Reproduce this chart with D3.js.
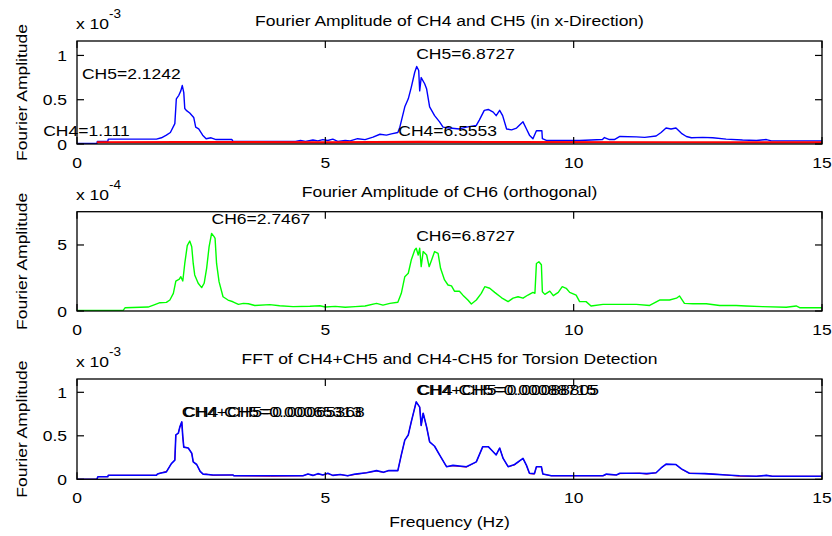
<!DOCTYPE html>
<html><head><meta charset="utf-8">
<script src="https://cdn.jsdelivr.net/npm/d3@7"></script>
<style>body{margin:0;background:#fff} text{font-family:"Liberation Sans",Arial,Helvetica,sans-serif;fill:#000}</style>
</head><body><svg id="c" width="832" height="536"></svg>
<script>
// ---------- data ----------
const xTicks = [0, 5, 10, 15];
const titles = [
  "Fourier Amplitude of CH4 and CH5 (in x-Direction)",
  "Fourier Amplitude of CH6 (orthogonal)",
  "FFT of CH4+CH5 and CH4-CH5 for Torsion Detection"
];
const exponents = ["-3", "-4", "-3"];
const yTicks1 = [0, 0.5, 1];
const yTicks2 = [0, 5];
const yTicks3 = [0, 0.5, 1];

// CH5 amplitude (x 1e-3) vs frequency (Hz)
const ch5 = [[0,0.005],[0.4,0.005],[0.41,0.03],[0.62,0.03],[0.63,0.055],[1.6,0.055],[1.7,0.07],[1.8,0.1],[1.88,0.13],[1.97,0.23],[2.0,0.51],[2.05,0.55],[2.09,0.6],[2.12,0.66],[2.15,0.58],[2.17,0.4],[2.2,0.38],[2.27,0.35],[2.35,0.3],[2.39,0.19],[2.45,0.17],[2.53,0.1],[2.6,0.06],[2.7,0.07],[2.8,0.05],[3.12,0.05],[3.14,0.03],[4.4,0.03],[4.5,0.04],[4.6,0.03],[4.75,0.045],[4.85,0.035],[4.95,0.05],[5.05,0.04],[5.15,0.055],[5.25,0.03],[5.4,0.04],[5.5,0.035],[5.65,0.06],[5.8,0.05],[5.96,0.077],[6.1,0.11],[6.23,0.1],[6.33,0.115],[6.46,0.13],[6.5,0.19],[6.6,0.42],[6.67,0.51],[6.73,0.64],[6.8,0.81],[6.84,0.875],[6.88,0.83],[6.9,0.6],[6.93,0.75],[7.0,0.68],[7.04,0.62],[7.1,0.42],[7.2,0.32],[7.3,0.25],[7.37,0.19],[7.5,0.18],[7.7,0.17],[7.84,0.19],[8.04,0.21],[8.1,0.27],[8.2,0.38],[8.28,0.39],[8.38,0.36],[8.44,0.32],[8.51,0.38],[8.57,0.32],[8.65,0.17],[8.75,0.16],[8.85,0.18],[8.98,0.25],[9.05,0.17],[9.11,0.1],[9.18,0.06],[9.25,0.15],[9.36,0.15],[9.37,0.06],[9.45,0.04],[10.12,0.04],[10.58,0.05],[10.62,0.073],[10.72,0.05],[10.82,0.05],[10.93,0.085],[11.26,0.08],[11.43,0.075],[11.66,0.09],[11.76,0.13],[11.86,0.18],[11.96,0.17],[12.06,0.18],[12.17,0.12],[12.27,0.085],[12.37,0.07],[12.6,0.075],[12.8,0.07],[13.07,0.055],[13.4,0.045],[13.68,0.04],[13.88,0.05],[13.98,0.035],[15,0.035]];

// CH4 amplitude (x 1e-3) — nearly zero
const ch4 = [[0.4,0.02],[2.1,0.022],[5,0.019],[6.9,0.023],[8.3,0.021],[12,0.02],[15,0.018]];

// CH6 amplitude (x 1e-4)
const ch6 = [[0,0.05],[0.93,0.05],[0.97,0.25],[1.43,0.3],[1.54,0.45],[1.67,0.63],[1.8,0.65],[1.87,0.83],[1.94,1.34],[1.99,2.27],[2.06,2.42],[2.09,2.6],[2.13,2.27],[2.17,3.6],[2.22,4.95],[2.27,5.3],[2.31,4.87],[2.34,3.6],[2.37,2.73],[2.44,2.1],[2.51,1.77],[2.56,2.1],[2.61,3.23],[2.66,4.87],[2.71,5.88],[2.76,5.63],[2.78,5.5],[2.81,3.6],[2.86,2.22],[2.94,1.08],[3.04,0.83],[3.14,0.7],[3.25,0.5],[3.35,0.58],[3.45,0.55],[3.58,0.42],[3.88,0.48],[4.08,0.4],[4.35,0.33],[4.69,0.36],[4.89,0.4],[5.0,0.3],[5.2,0.35],[5.4,0.28],[5.6,0.33],[5.8,0.38],[6.03,0.58],[6.16,0.45],[6.3,0.58],[6.46,0.66],[6.53,1.34],[6.6,2.6],[6.67,2.86],[6.73,3.86],[6.8,4.62],[6.83,4.75],[6.87,4.24],[6.9,4.75],[6.93,3.36],[6.97,4.5],[7.04,4.24],[7.09,3.36],[7.14,3.86],[7.2,4.5],[7.27,4.37],[7.32,3.23],[7.4,2.35],[7.47,1.97],[7.54,1.9],[7.6,1.5],[7.7,1.5],[7.77,1.2],[7.87,0.83],[7.94,0.53],[8.04,0.83],[8.14,1.34],[8.21,1.84],[8.31,1.72],[8.41,1.41],[8.55,1.0],[8.68,0.71],[8.78,0.97],[8.88,1.08],[8.98,0.97],[9.08,1.21],[9.18,1.41],[9.22,1.34],[9.25,3.6],[9.3,3.73],[9.35,3.5],[9.37,1.46],[9.42,1.26],[9.52,1.5],[9.59,1.16],[9.69,1.41],[9.77,1.84],[9.85,1.72],[9.92,1.41],[10.05,1.2],[10.12,0.71],[10.25,0.71],[10.35,0.38],[10.59,0.5],[10.93,0.5],[11.26,0.5],[11.53,0.42],[11.73,0.83],[11.93,0.83],[12.07,0.97],[12.13,1.14],[12.23,0.58],[12.4,0.55],[12.67,0.55],[12.94,0.42],[13.27,0.42],[13.47,0.38],[13.8,0.33],[14.28,0.28],[14.48,0.38],[14.55,0.25],[15,0.25]];

// FFT of CH4+CH5 (x 1e-3)
const sumCh = [[0,0.0],[0.4,0.0],[0.42,0.03],[0.62,0.03],[0.63,0.046],[1.6,0.046],[1.62,0.06],[1.67,0.07],[1.8,0.085],[1.9,0.18],[1.97,0.22],[1.99,0.51],[2.04,0.53],[2.07,0.6],[2.11,0.66],[2.13,0.49],[2.15,0.37],[2.24,0.36],[2.31,0.3],[2.34,0.2],[2.41,0.17],[2.48,0.09],[2.54,0.06],[2.74,0.05],[3.14,0.05],[3.16,0.04],[4.55,0.04],[4.65,0.06],[4.75,0.045],[4.85,0.065],[4.95,0.05],[5.05,0.07],[5.15,0.045],[5.3,0.055],[5.45,0.04],[5.6,0.06],[5.83,0.076],[6.03,0.1],[6.17,0.08],[6.28,0.1],[6.46,0.1],[6.53,0.28],[6.6,0.45],[6.67,0.51],[6.73,0.66],[6.83,0.89],[6.9,0.83],[6.93,0.62],[6.97,0.76],[7.04,0.6],[7.1,0.43],[7.2,0.38],[7.3,0.28],[7.44,0.145],[7.57,0.16],[7.84,0.145],[8.04,0.2],[8.17,0.375],[8.28,0.375],[8.34,0.34],[8.44,0.28],[8.51,0.36],[8.58,0.24],[8.68,0.145],[8.81,0.17],[8.98,0.24],[9.05,0.16],[9.11,0.07],[9.21,0.065],[9.25,0.145],[9.35,0.145],[9.38,0.06],[9.55,0.04],[10.59,0.04],[10.66,0.06],[10.86,0.05],[10.93,0.07],[11.33,0.07],[11.47,0.065],[11.66,0.075],[11.76,0.13],[11.86,0.175],[12.06,0.17],[12.17,0.12],[12.33,0.07],[12.64,0.065],[12.8,0.06],[13.07,0.05],[13.34,0.04],[13.68,0.035],[13.88,0.045],[14.0,0.035],[15,0.035]];

// FFT of CH4-CH5 (x 1e-3)
const diffCh = [[0,0.0],[0.4,0.0],[0.42,0.03],[0.62,0.03],[0.63,0.046],[1.6,0.046],[1.62,0.06],[1.67,0.07],[1.8,0.09],[1.9,0.18],[1.97,0.22],[1.99,0.51],[2.04,0.53],[2.07,0.6],[2.11,0.66],[2.13,0.49],[2.15,0.37],[2.24,0.36],[2.31,0.3],[2.34,0.2],[2.41,0.17],[2.48,0.09],[2.54,0.055],[2.6,0.06],[2.74,0.045],[3.14,0.05],[3.16,0.04],[3.9,0.035],[4.55,0.04],[4.65,0.06],[4.75,0.045],[4.85,0.06],[4.95,0.05],[5.05,0.065],[5.15,0.045],[5.3,0.055],[5.45,0.04],[5.6,0.055],[5.83,0.076],[6.03,0.095],[6.17,0.08],[6.28,0.1],[6.46,0.1],[6.53,0.28],[6.6,0.45],[6.67,0.51],[6.73,0.66],[6.83,0.89],[6.9,0.83],[6.93,0.62],[6.97,0.76],[7.04,0.6],[7.1,0.43],[7.2,0.38],[7.3,0.28],[7.44,0.145],[7.57,0.155],[7.84,0.14],[8.04,0.2],[8.17,0.375],[8.28,0.375],[8.34,0.34],[8.44,0.28],[8.51,0.36],[8.58,0.24],[8.68,0.145],[8.81,0.165],[8.98,0.24],[9.05,0.16],[9.11,0.065],[9.21,0.06],[9.25,0.145],[9.35,0.145],[9.38,0.06],[9.55,0.04],[10.59,0.04],[10.66,0.055],[10.86,0.05],[10.93,0.065],[11.33,0.07],[11.47,0.06],[11.66,0.075],[11.76,0.13],[11.86,0.17],[12.06,0.17],[12.17,0.115],[12.33,0.07],[12.64,0.065],[12.8,0.06],[13.07,0.05],[13.34,0.035],[13.68,0.035],[13.88,0.045],[14.0,0.035],[15,0.035]];

const notes1 = [["CH5=2.1242",0.1,0.8],["CH4=1.111",-0.68,0.15],["CH5=6.8727",6.83,1.02],["CH4=6.5553",6.47,0.15]];
const notes2 = [["CH6=2.7467",2.71,6.97],["CH6=6.8727",6.83,5.7]];
const notes3 = [["CH4-CH5=0.00065313",2.14,0.785],["CH4+CH5=0.00065368",2.11,0.785],["CH4-CH5=0.00088715",6.86,1.03],["CH4+CH5=0.00088805",6.83,1.03]];

// ---------- drawing ----------
const svg = d3.select("#c");
const FS = 15.5, SX = 1.13;
const left = 77, right = 822;
const x = d3.scaleLinear().domain([0, 15]).range([left, right]);

function txt(g, px, py, s, anchor, size, rot) {
  return g.append("text")
    .attr("transform", `translate(${px},${py})` + (rot ? ` rotate(${rot})` : "") + ` scale(${SX},1)`)
    .attr("text-anchor", anchor || "start")
    .style("font-size", (size || FS) + "px")
    .text(s);
}

const panels = [
  {top: 41, bottom: 144, ymax: 1.163, ticks: yTicks1, fmt: d => String(d),
   lines: [{d: ch5, c: "#0000ff", w: 1.4}, {d: ch4, c: "#ff0000", w: 2.2}], notes: notes1},
  {top: 211.7, bottom: 311, ymax: 7.52, ticks: yTicks2, fmt: d => String(d),
   lines: [{d: ch6, c: "#00ff00", w: 1.4}], notes: notes2},
  {top: 379, bottom: 479.3, ymax: 1.153, ticks: yTicks3, fmt: d => String(d),
   lines: [{d: diffCh, c: "#ff0000", w: 1.0}, {d: sumCh, c: "#0000ff", w: 1.6}], notes: notes3}
];

panels.forEach((p, i) => {
  const g = svg.append("g");
  const y = d3.scaleLinear().domain([0, p.ymax]).range([p.bottom, p.top]);
  const line = d3.line().x(d => x(d[0])).y(d => y(d[1]));
  const clip = "clip" + i;
  svg.append("clipPath").attr("id", clip).append("rect")
    .attr("x", left).attr("y", p.top).attr("width", right - left).attr("height", p.bottom - p.top);
  p.lines.forEach(l => {
    g.append("path").datum(l.d).attr("d", line).attr("fill", "none")
      .attr("stroke", l.c).attr("stroke-width", l.w).attr("stroke-linejoin", "round")
      .attr("clip-path", `url(#${clip})`);
  });
  const tl = 7;
  xTicks.forEach(t => {
    g.append("line").attr("x1", x(t)).attr("x2", x(t)).attr("y1", p.bottom).attr("y2", p.bottom - tl).attr("stroke", "#000").attr("stroke-width", 1.2);
    g.append("line").attr("x1", x(t)).attr("x2", x(t)).attr("y1", p.top).attr("y2", p.top + tl).attr("stroke", "#000").attr("stroke-width", 1.2);
    txt(g, x(t), p.bottom + 23.5, String(t), "middle");
  });
  p.ticks.forEach(t => {
    g.append("line").attr("x1", left).attr("x2", left + tl).attr("y1", y(t)).attr("y2", y(t)).attr("stroke", "#000").attr("stroke-width", 1.2);
    g.append("line").attr("x1", right).attr("x2", right - tl).attr("y1", y(t)).attr("y2", y(t)).attr("stroke", "#000").attr("stroke-width", 1.2);
    txt(g, 67, y(t) + 5.5, p.fmt(t), "end");
  });
  g.append("rect").attr("x", left).attr("y", p.top).attr("width", right - left).attr("height", p.bottom - p.top)
    .attr("fill", "none").attr("stroke", "#000").attr("stroke-width", 1.3);
  txt(g, (left + right) / 2, p.top - 15, titles[i], "middle");
  txt(g, 76, p.top - 12, "x 10", "start");
  txt(g, 109, p.top - 23, exponents[i], "start", 12);
  txt(g, 27, (p.top + p.bottom) / 2, "Fourier Amplitude", "middle", FS, -90);
  p.notes.forEach(n => {
    txt(g, x(n[1]), y(n[2]) + 5.5, n[0], "start");
  });
});
txt(svg, (left + right) / 2, 527, "Frequency (Hz)", "middle");
</script></body></html>
